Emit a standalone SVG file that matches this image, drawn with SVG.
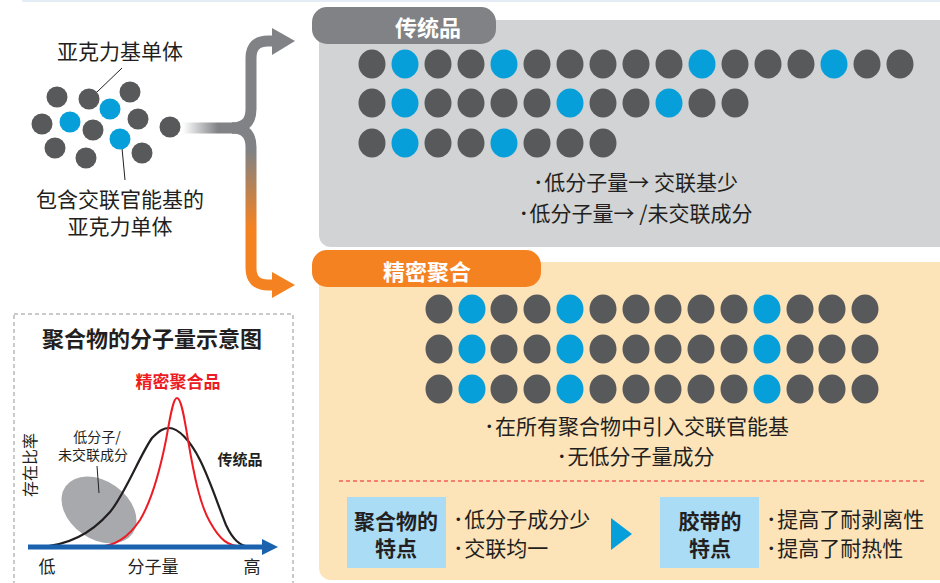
<svg xmlns="http://www.w3.org/2000/svg" width="940" height="583" viewBox="0 0 940 583">
<defs>
<style>
text{font-family:"Noto Sans CJK SC","Noto Sans",sans-serif;fill:#231f20}
.bul{font-family:"Liberation Sans",sans-serif;font-size:13px;baseline-shift:3px}
.d{fill:#58595b}
.b{fill:#079fd9}
.t20{font-size:21px}
.bold{font-weight:bold}
.w{fill:#fff}
.mid{text-anchor:middle}
</style>
<linearGradient id="hfade" gradientUnits="userSpaceOnUse" x1="183" y1="0" x2="218" y2="0">
<stop offset="0" stop-color="#808285" stop-opacity="0"/>
<stop offset="1" stop-color="#808285"/>
</linearGradient>
<linearGradient id="vgrad" gradientUnits="userSpaceOnUse" x1="0" y1="150" x2="0" y2="228">
<stop offset="0" stop-color="#808285"/>
<stop offset="1" stop-color="#f58220"/>
</linearGradient>
<ellipse id="dot" cx="0" cy="0" rx="13.5" ry="14.5"/>
</defs>
<rect x="22" y="0" width="918" height="2" fill="#e4edf6"/>

<g id="monomers">
<text class="t20 mid" x="120" y="59">亚克力基单体</text>
<line x1="122" y1="68" x2="97" y2="92" stroke="#231f20" stroke-width="1"/>
<line x1="122" y1="148" x2="125" y2="180" stroke="#231f20" stroke-width="1"/>
<g>
<circle class="d" cx="57" cy="97" r="10.5"/>
<circle class="d" cx="89" cy="99" r="10.5"/>
<circle class="d" cx="130" cy="92" r="10.5"/>
<circle class="b" cx="110" cy="109" r="10.5"/>
<circle class="d" cx="42" cy="124" r="10.5"/>
<circle class="b" cx="70" cy="122" r="10.5"/>
<circle class="d" cx="93" cy="130" r="10.5"/>
<circle class="d" cx="138" cy="119" r="10.5"/>
<circle class="b" cx="120" cy="139" r="10.5"/>
<circle class="d" cx="55" cy="148" r="10.5"/>
<circle class="d" cx="86" cy="158" r="10.5"/>
<circle class="d" cx="142" cy="153" r="10.5"/>
<circle class="d" cx="170" cy="127" r="10.5"/>
</g>
<text class="t20 mid" x="120" y="207">包含交联官能基的</text>
<text class="t20 mid" x="120" y="234">亚克力单体</text>
</g>

<g id="connectors">
<rect x="183" y="122.5" width="52" height="11" fill="url(#hfade)"/>
<path d="M232 128 Q251 128 251 109 V58 Q251 41 268 41 H278" fill="none" stroke="#808285" stroke-width="11"/>
<polygon points="272,28 295,41 272,55" fill="#808285"/>
<path d="M232 128 Q251 128 251 147 V268 Q251 285 268 285 H278" fill="none" stroke="url(#vgrad)" stroke-width="11"/>
<polygon points="272,272 295,285 272,298" fill="#f58220"/>
</g>

<g id="conventional">
<rect x="319" y="20" width="640" height="227" rx="12" fill="#d1d3d4"/>
<rect x="312" y="7" width="184" height="37" rx="15" fill="#808285"/>
<text class="bold w mid" x="428" y="36" font-size="22">传统品</text>
<g id="conv-dots">
<use href="#dot" class="d" x="372" y="64"/><use href="#dot" class="b" x="405" y="64"/><use href="#dot" class="d" x="438" y="64"/><use href="#dot" class="d" x="471" y="64"/><use href="#dot" class="b" x="504" y="64"/><use href="#dot" class="d" x="537" y="64"/><use href="#dot" class="d" x="570" y="64"/><use href="#dot" class="d" x="603" y="64"/><use href="#dot" class="d" x="636" y="64"/><use href="#dot" class="d" x="669" y="64"/><use href="#dot" class="b" x="702" y="64"/><use href="#dot" class="d" x="735" y="64"/><use href="#dot" class="d" x="768" y="64"/><use href="#dot" class="d" x="801" y="64"/><use href="#dot" class="b" x="834" y="64"/><use href="#dot" class="d" x="867" y="64"/><use href="#dot" class="d" x="900" y="64"/>
<use href="#dot" class="d" x="372" y="103"/><use href="#dot" class="b" x="405" y="103"/><use href="#dot" class="d" x="438" y="103"/><use href="#dot" class="d" x="471" y="103"/><use href="#dot" class="d" x="504" y="103"/><use href="#dot" class="d" x="537" y="103"/><use href="#dot" class="b" x="570" y="103"/><use href="#dot" class="d" x="603" y="103"/><use href="#dot" class="d" x="636" y="103"/><use href="#dot" class="b" x="669" y="103"/><use href="#dot" class="d" x="702" y="103"/><use href="#dot" class="d" x="735" y="103"/>
<use href="#dot" class="d" x="372" y="143"/><use href="#dot" class="b" x="405" y="143"/><use href="#dot" class="d" x="438" y="143"/><use href="#dot" class="d" x="471" y="143"/><use href="#dot" class="b" x="504" y="143"/><use href="#dot" class="d" x="537" y="143"/><use href="#dot" class="d" x="570" y="143"/><use href="#dot" class="d" x="603" y="143"/>
</g>
<text class="t20 mid" x="637" y="190"><tspan class="bul">• </tspan>低分子量→ 交联基少</text>
<text class="t20 mid" x="637" y="221"><tspan class="bul">• </tspan>低分子量→ /未交联成分</text>
</g>

<g id="precision">
<rect x="319" y="262" width="640" height="318" rx="12" fill="#fde3b8"/>
<rect x="312" y="250" width="229" height="37" rx="15" fill="#f58220"/>
<text class="bold w mid" x="427" y="280" font-size="22">精密聚合</text>
<g id="prec-dots">
<use href="#dot" class="d" x="439" y="309"/><use href="#dot" class="b" x="472" y="309"/><use href="#dot" class="d" x="504" y="309"/><use href="#dot" class="d" x="537" y="309"/><use href="#dot" class="b" x="570" y="309"/><use href="#dot" class="d" x="603" y="309"/><use href="#dot" class="d" x="636" y="309"/><use href="#dot" class="d" x="668" y="309"/><use href="#dot" class="d" x="701" y="309"/><use href="#dot" class="d" x="734" y="309"/><use href="#dot" class="b" x="767" y="309"/><use href="#dot" class="d" x="800" y="309"/><use href="#dot" class="d" x="832" y="309"/><use href="#dot" class="d" x="865" y="309"/>
<use href="#dot" class="d" x="439" y="349"/><use href="#dot" class="b" x="472" y="349"/><use href="#dot" class="d" x="504" y="349"/><use href="#dot" class="d" x="537" y="349"/><use href="#dot" class="b" x="570" y="349"/><use href="#dot" class="d" x="603" y="349"/><use href="#dot" class="d" x="636" y="349"/><use href="#dot" class="d" x="668" y="349"/><use href="#dot" class="d" x="701" y="349"/><use href="#dot" class="d" x="734" y="349"/><use href="#dot" class="b" x="767" y="349"/><use href="#dot" class="d" x="800" y="349"/><use href="#dot" class="d" x="832" y="349"/><use href="#dot" class="d" x="865" y="349"/>
<use href="#dot" class="d" x="439" y="389"/><use href="#dot" class="b" x="472" y="389"/><use href="#dot" class="d" x="504" y="389"/><use href="#dot" class="d" x="537" y="389"/><use href="#dot" class="b" x="570" y="389"/><use href="#dot" class="d" x="603" y="389"/><use href="#dot" class="d" x="636" y="389"/><use href="#dot" class="d" x="668" y="389"/><use href="#dot" class="d" x="701" y="389"/><use href="#dot" class="d" x="734" y="389"/><use href="#dot" class="b" x="767" y="389"/><use href="#dot" class="d" x="800" y="389"/><use href="#dot" class="d" x="832" y="389"/><use href="#dot" class="d" x="865" y="389"/>
</g>
<text class="t20 mid" x="638" y="434"><tspan class="bul">• </tspan>在所有聚合物中引入交联官能基</text>
<text class="t20 mid" x="637" y="464"><tspan class="bul">• </tspan>无低分子量成分</text>
<line x1="339" y1="481" x2="926" y2="481" stroke="#ed1c24" stroke-width="1" stroke-dasharray="4 3"/>
</g>

<g id="polymer-features">
<rect x="347" y="497" width="99" height="71" fill="#abdcf5"/>
<text class="bold mid" x="396" y="529" font-size="21">聚合物的</text>
<text class="bold mid" x="396" y="556" font-size="21">特点</text>
<text class="t20" x="456" y="527"><tspan class="bul">• </tspan>低分子成分少</text>
<text class="t20" x="456" y="556"><tspan class="bul">• </tspan>交联均一</text>
</g>
<polygon id="result-arrow" points="611,518 632,534 611,550" fill="#079fd9"/>
<g id="tape-features">
<rect x="660" y="497" width="99" height="71" fill="#abdcf5"/>
<text class="bold mid" x="710" y="529" font-size="21">胶带的</text>
<text class="bold mid" x="710" y="556" font-size="21">特点</text>
<text class="t20" x="769" y="527"><tspan class="bul">• </tspan>提高了耐剥离性</text>
<text class="t20" x="769" y="556"><tspan class="bul">• </tspan>提高了耐热性</text>
</g>

<g id="chart">
<rect x="14" y="314" width="279" height="280" fill="none" stroke="#939598" stroke-width="1" stroke-dasharray="4 3"/>
<text class="bold mid" x="152" y="347" font-size="22">聚合物的分子量示意图</text>
<text class="bold mid" x="178" y="388" font-size="17" style="fill:#ed1c24">精密聚合品</text>
<text class="mid" font-size="16" transform="translate(36 465) rotate(-90)">存在比率</text>
<ellipse cx="99" cy="510" rx="41" ry="29" transform="rotate(35 99 510)" fill="#a7a9ac"/>
<text class="mid" x="97" y="442" font-size="14">低分子/</text>
<text class="mid" x="93" y="460" font-size="14">未交联成分</text>
<line x1="97" y1="466" x2="99" y2="493" stroke="#231f20" stroke-width="1"/>
<path d="M38 547 C65 546 90 535 110 512 C125 494 140 455 152 438 C160 430 164 428 169 428 C178 428 190 440 200 460 C210 480 218 505 226 525 C233 540 240 546 250 547" fill="none" stroke="#231f20" stroke-width="2.2"/>
<path d="M97 547 C115 546 128 538 140 520 C152 500 160 470 166 440 C170 418 173 398 177 398 C181 398 184 415 188 440 C194 475 200 505 210 522 C220 540 228 546 242 547" fill="none" stroke="#ed1c24" stroke-width="2"/>
<text class="bold mid" x="240" y="465" font-size="15">传统品</text>
<line x1="28" y1="547" x2="266" y2="547" stroke="#1a62ad" stroke-width="5"/>
<polygon points="262,539 278,547 262,555" fill="#1a62ad"/>
<text class="mid" x="47" y="573" font-size="17">低</text>
<text class="mid" x="153" y="573" font-size="17">分子量</text>
<text class="mid" x="252" y="573" font-size="17">高</text>
</g>
</svg>
